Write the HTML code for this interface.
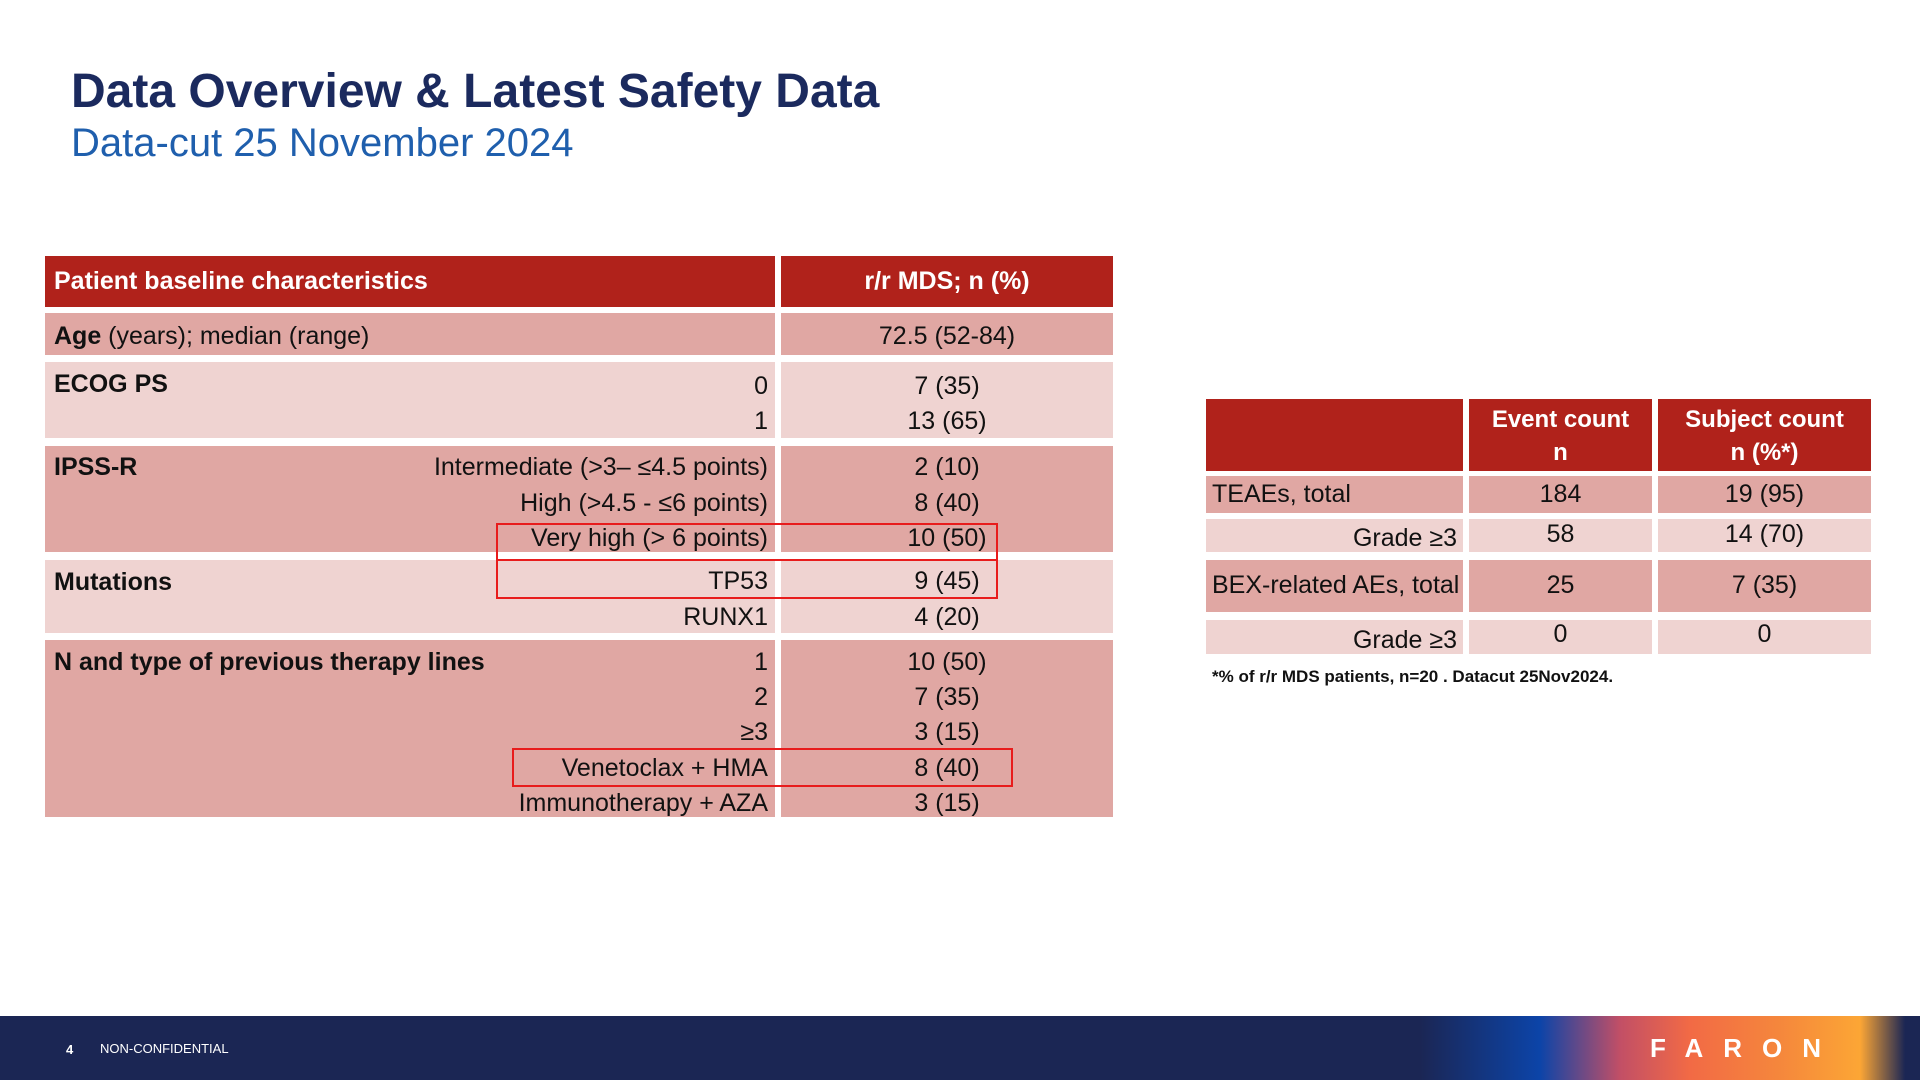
<!DOCTYPE html>
<html><head><meta charset="utf-8"><style>
body{margin:0;width:1920px;height:1080px;position:relative;background:#fff;font-family:"Liberation Sans",sans-serif;overflow:hidden}
.a{position:absolute}
.t{font-size:25px;color:#111;white-space:nowrap}
.h{background:#b0221b}.d{background:#e0a7a3}.l{background:#efd3d1}
.r{text-align:right}.c{text-align:center}
</style></head><body>
<div class="a" style="left:71px;top:64px;font-size:48px;font-weight:bold;color:#1b2a5e">Data Overview &amp; Latest Safety Data</div>
<div class="a" style="left:71px;top:121px;font-size:40px;color:#1f5fad">Data-cut 25 November 2024</div>

<div class="a h" style="left:45px;top:256px;width:730px;height:51px"></div>
<div class="a h" style="left:781px;top:256px;width:332px;height:51px"></div>
<div class="a d" style="left:45px;top:313px;width:730px;height:42px"></div>
<div class="a d" style="left:781px;top:313px;width:332px;height:42px"></div>
<div class="a l" style="left:45px;top:362px;width:730px;height:76px"></div>
<div class="a l" style="left:781px;top:362px;width:332px;height:76px"></div>
<div class="a d" style="left:45px;top:446px;width:730px;height:106px"></div>
<div class="a d" style="left:781px;top:446px;width:332px;height:106px"></div>
<div class="a l" style="left:45px;top:560px;width:730px;height:73px"></div>
<div class="a l" style="left:781px;top:560px;width:332px;height:73px"></div>
<div class="a d" style="left:45px;top:640px;width:730px;height:177px"></div>
<div class="a d" style="left:781px;top:640px;width:332px;height:177px"></div>

<div class="a t" style="left:54px;top:267px;color:#fff;font-weight:bold">Patient baseline characteristics</div>
<div class="a t c" style="left:781px;width:332px;top:267px;color:#fff;font-weight:bold">r/r MDS; n (%)</div>
<div class="a t" style="left:54px;top:322px"><b>Age</b> (years); median (range)</div>
<div class="a t c" style="left:781px;width:332px;top:322px">72.5 (52-84)</div>

<div class="a t" style="left:54px;top:370px;font-weight:bold">ECOG PS</div>
<div class="a t" style="left:54px;top:453px;font-weight:bold">IPSS-R</div>
<div class="a t" style="left:54px;top:568px;font-weight:bold">Mutations</div>
<div class="a t" style="left:54px;top:648px;font-weight:bold">N and type of previous therapy lines</div>

<div class="a t r" style="left:300px;width:468px;top:369px;line-height:35px">0<br>1</div>
<div class="a t c" style="left:781px;width:332px;top:369px;line-height:35px">7 (35)<br>13 (65)</div>
<div class="a t r" style="left:300px;width:468px;top:450px;line-height:35.5px">Intermediate (&gt;3– ≤4.5 points)<br>High (&gt;4.5 - ≤6 points)<br>Very high (&gt; 6 points)</div>
<div class="a t c" style="left:781px;width:332px;top:450px;line-height:35.5px">2 (10)<br>8 (40)<br>10 (50)</div>
<div class="a t r" style="left:300px;width:468px;top:564px;line-height:35.5px">TP53<br>RUNX1</div>
<div class="a t c" style="left:781px;width:332px;top:564px;line-height:35.5px">9 (45)<br>4 (20)</div>
<div class="a t r" style="left:300px;width:468px;top:645px;line-height:35.2px">1<br>2<br>≥3<br>Venetoclax + HMA<br>Immunotherapy + AZA</div>
<div class="a t c" style="left:781px;width:332px;top:645px;line-height:35.2px">10 (50)<br>7 (35)<br>3 (15)<br>8 (40)<br>3 (15)</div>

<div class="a" style="left:496px;top:523px;width:498px;height:34px;border:2px solid #e81c1c"></div>
<div class="a" style="left:496px;top:559px;width:498px;height:38px;border:2px solid #e81c1c;border-top:none"></div>
<div class="a" style="left:512px;top:748px;width:497px;height:35px;border:2px solid #e81c1c"></div>

<div class="a h" style="left:1206px;top:399px;width:257px;height:72px"></div>
<div class="a h" style="left:1469px;top:399px;width:183px;height:72px"></div>
<div class="a h" style="left:1658px;top:399px;width:213px;height:72px"></div>
<div class="a d" style="left:1206px;top:476px;width:257px;height:37px"></div>
<div class="a d" style="left:1469px;top:476px;width:183px;height:37px"></div>
<div class="a d" style="left:1658px;top:476px;width:213px;height:37px"></div>
<div class="a l" style="left:1206px;top:519px;width:257px;height:33px"></div>
<div class="a l" style="left:1469px;top:519px;width:183px;height:33px"></div>
<div class="a l" style="left:1658px;top:519px;width:213px;height:33px"></div>
<div class="a d" style="left:1206px;top:560px;width:257px;height:52px"></div>
<div class="a d" style="left:1469px;top:560px;width:183px;height:52px"></div>
<div class="a d" style="left:1658px;top:560px;width:213px;height:52px"></div>
<div class="a l" style="left:1206px;top:620px;width:257px;height:34px"></div>
<div class="a l" style="left:1469px;top:620px;width:183px;height:34px"></div>
<div class="a l" style="left:1658px;top:620px;width:213px;height:34px"></div>

<div class="a t c" style="left:1469px;width:183px;top:403px;line-height:33px;color:#fff;font-weight:bold;font-size:24px">Event count<br>n</div>
<div class="a t c" style="left:1658px;width:213px;top:403px;line-height:33px;color:#fff;font-weight:bold;font-size:24px">Subject count<br>n (%*)</div>
<div class="a t" style="left:1212px;top:480px">TEAEs, total</div>
<div class="a t c" style="left:1469px;width:183px;top:480px">184</div>
<div class="a t c" style="left:1658px;width:213px;top:480px">19 (95)</div>
<div class="a t r" style="left:1206px;width:251px;top:524px">Grade ≥3</div>
<div class="a t c" style="left:1469px;width:183px;top:520px">58</div>
<div class="a t c" style="left:1658px;width:213px;top:520px">14 (70)</div>
<div class="a t" style="left:1212px;top:571px">BEX-related AEs, total</div>
<div class="a t c" style="left:1469px;width:183px;top:571px">25</div>
<div class="a t c" style="left:1658px;width:213px;top:571px">7 (35)</div>
<div class="a t r" style="left:1206px;width:251px;top:626px">Grade ≥3</div>
<div class="a t c" style="left:1469px;width:183px;top:620px">0</div>
<div class="a t c" style="left:1658px;width:213px;top:620px">0</div>
<div class="a" style="left:1212px;top:667px;font-size:17px;font-weight:bold;color:#111">*% of r/r MDS patients, n=20 . Datacut 25Nov2024.</div>

<div class="a" style="left:0;top:1016px;width:1920px;height:64px;background:linear-gradient(90deg,#1b2654 0px,#1b2654 1420px,#0c44a8 1540px,#c24f66 1620px,#f26a45 1690px,#f5873c 1780px,#fca635 1860px,#1b2654 1905px)"></div>
<div class="a" style="left:66px;top:1042px;font-size:13px;color:#fff;font-weight:bold">4</div>
<div class="a" style="left:100px;top:1041px;font-size:13px;color:#fff">NON-CONFIDENTIAL</div>
<div class="a" style="left:1650px;top:1033px;font-size:26px;font-weight:bold;color:#fff;letter-spacing:20px">FARON</div>
</body></html>
